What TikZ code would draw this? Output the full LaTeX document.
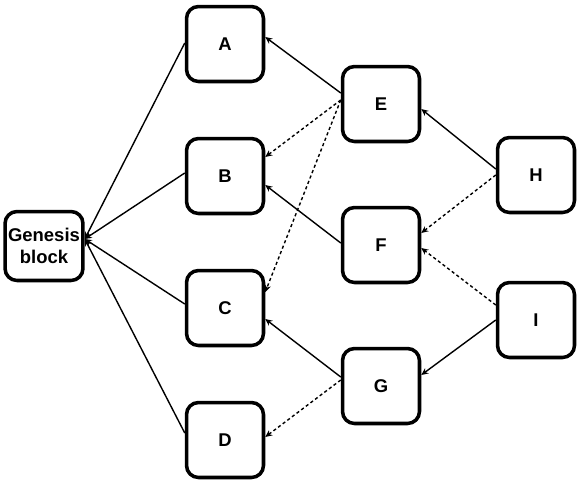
\documentclass[tikz,border=0pt]{standalone}
\usepackage{fontspec}
\setmainfont{Liberation Sans}
\usetikzlibrary{arrows.meta,calc}

\begin{document}
\begin{tikzpicture}[x=0.02cm,y=-0.02cm,
    blk/.style={draw,line width=2pt,rounded corners=0.24cm,minimum width=1.54cm,
        minimum height=1.5cm,inner sep=0pt,align=center,
        font=\fontsize{10.5}{12.5}\selectfont\bfseries},
    link/.style={line width=0.8pt,-{Stealth[length=4pt,width=3.6pt]}},
    hint/.style={link,dash pattern=on 1.8pt off 1.5pt}]
            \useasboundingbox (0,0) rectangle (582,484);

            \node[blk,minimum width=1.56cm,minimum height=1.38cm] (gen) at (44,246) {Genesis\\block};
            \node[blk] (a) at (225,44) {A};
            \node[blk] (b) at (225,176) {B};
            \node[blk] (c) at (225,308) {C};
            \node[blk] (d) at (225,440) {D};
            \node[blk] (e) at (381,104) {E};
            \node[blk] (f) at (381,245) {F};
            \node[blk] (g) at (381,386) {G};
            \node[blk] (h) at (536,175) {H};
            \node[blk] (i) at (536,320) {I};

            % blocks back to genesis
            \draw[link] ($(a.west)+(0,-1)$) -- ($(gen.east)+(0,-7)$);
            \draw[link] ($(b.west)+(0,-3)$) -- ($(gen.east)+(0,-7)$);
            \draw[link] ($(c.west)+(0,-4)$) -- ($(gen.east)+(0,-7)$);
            \draw[link] ($(d.west)+(0,-7)$) -- ($(gen.east)+(0,-7)$);

            % parents (solid) and extra references (dotted)
            \draw[link] ($(e.west)+(0,-11)$) -- ($(a.east)+(0,-7)$);
            \draw[hint] ($(e.west)+(0,-4)$) -- ($(b.east)+(0,-19)$);
            \draw[hint] ($(e.west)+(0,-4)$) -- ($(c.east)+(0,-16)$);
            \draw[link] ($(f.west)+(0,-2)$) -- ($(b.east)+(0,9)$);
            \draw[link] ($(g.west)+(0,-9)$) -- ($(c.east)+(0,11)$);
            \draw[hint] ($(g.west)+(0,-6)$) -- ($(d.east)+(0,-3)$);
            \draw[link] ($(h.west)+(0,-6)$) -- ($(e.east)+(0,5)$);
            \draw[hint] (h.west) -- ($(f.east)+(0,-12)$);
            \draw[hint] ($(i.west)+(0,-15)$) -- ($(f.east)+(0,3)$);
            \draw[link] (i.west) -- ($(g.east)+(0,-11)$);
        \end{tikzpicture}
\end{document}
